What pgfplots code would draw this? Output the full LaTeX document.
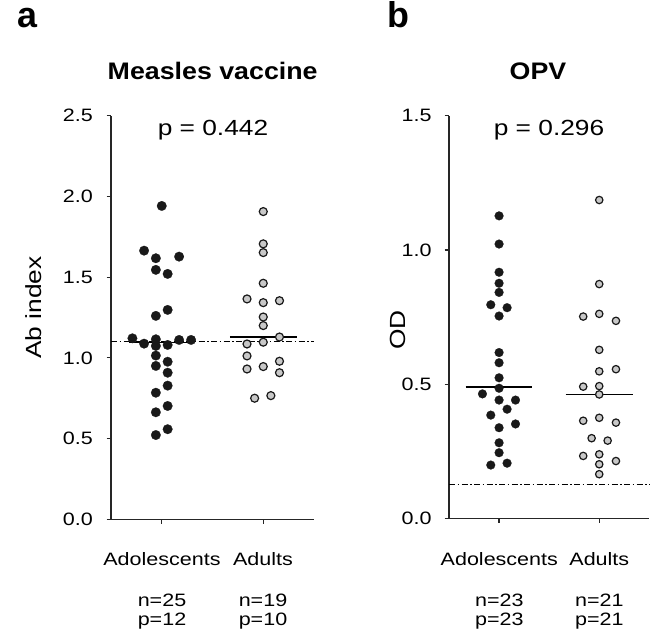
\documentclass[border=0pt]{standalone}
\usepackage{pgfplots}
\pgfplotsset{compat=1.18}
\usepackage{fontspec}
\setmainfont{Liberation Sans}[FakeStretch=1.2]
\newfontfamily\titlefont{Liberation Sans}[FakeStretch=1.12]
\newfontfamily\plainsans{Liberation Sans}
\definecolor{dotblack}{RGB}{25,25,25}
\definecolor{adgray}{RGB}{200,200,200}

\pgfplotstableread{
x y
1.000 1.941
0.826 1.664
0.942 1.617
1.171 1.627
0.942 1.545
1.058 1.520
1.058 1.297
0.942 1.260
0.711 1.121
0.942 1.115
1.171 1.111
1.289 1.111
0.826 1.088
0.942 1.074
1.058 1.080
0.942 1.014
0.942 0.950
1.058 0.976
1.058 0.908
1.058 0.828
0.942 0.784
1.058 0.702
0.942 0.663
1.058 0.558
0.942 0.522
}\measlesAdol

\pgfplotstableread{
x y
2.000 1.906
2.000 1.706
2.000 1.652
2.000 1.462
1.840 1.365
2.160 1.354
2.000 1.342
2.000 1.253
2.000 1.200
2.160 1.129
1.840 1.086
2.000 1.097
1.840 1.012
1.840 0.931
2.000 0.946
2.160 0.979
2.160 0.908
1.915 0.750
2.075 0.766
}\measlesAdult

\pgfplotstableread{
x y
1.000 1.127
1.000 1.022
1.000 0.917
1.000 0.876
1.000 0.842
0.917 0.796
1.080 0.785
1.000 0.754
1.000 0.618
1.000 0.580
1.000 0.524
1.000 0.485
0.834 0.464
1.000 0.441
1.164 0.441
1.080 0.407
0.917 0.385
1.164 0.352
1.000 0.338
1.000 0.282
1.000 0.245
0.917 0.199
1.080 0.206
}\opvAdol

\pgfplotstableread{
x y
2.000 1.186
2.000 0.873
1.840 0.752
2.000 0.762
2.167 0.736
2.000 0.628
2.000 0.548
2.167 0.556
1.840 0.491
2.000 0.493
2.000 0.462
1.840 0.364
2.000 0.375
2.167 0.357
1.924 0.299
2.084 0.290
1.840 0.233
2.000 0.239
2.167 0.214
2.000 0.202
2.000 0.165
}\opvAdult

\pgfplotsset{
  dotpanel/.style={
    scale only axis,
    anchor=south west,
    xmin=0.5, xmax=2.5, ymin=0,
    axis x line*=bottom, axis y line*=left,
    axis line style={-, line width=1.2bp, black!85},
    every tick/.style={black!85, line width=1.2bp},
    tick align=outside,
    major tick length=4.5bp,
    xtick={1,2}, xticklabels={}, yticklabels={},
    clip=false,
  },
  blackdot/.style={only marks, mark=*, mark size=4.8bp, mark options={fill=dotblack, draw=dotblack, line width=0.2bp}},
  graydot/.style={only marks, mark=*, mark size=4.0bp, mark options={fill=adgray, draw=black!90, line width=1.2bp}},
}

\begin{document}
\begin{tikzpicture}[x=1bp,y=1bp]
\useasboundingbox (0,0) rectangle (651,629);

% Panel a
\begin{axis}[dotpanel, at={(111bp,109.7bp)}, width=203bp, height=403.6bp,
  ymax=2.5, ytick={0,0.5,1,1.5,2,2.5}]
  \addplot[blackdot] table {\measlesAdol};
  \addplot[graydot] table {\measlesAdult};
  \addplot[black, line width=1.4bp] coordinates {(0.68,1.094) (1.32,1.094)};
  \addplot[black, line width=1.4bp] coordinates {(1.67,1.129) (2.33,1.129)};
  \addplot[black, line width=1.1bp, dash pattern=on 6bp off 2.5bp on 1.5bp off 2.5bp] coordinates {(0.5,1.100) (2.5,1.100)};
\end{axis}

% Panel b
\begin{axis}[dotpanel, at={(449bp,110.5bp)}, width=200.3bp, height=402.8bp,
  ymax=1.5, ytick={0,0.5,1,1.5}]
  \addplot[blackdot, mark size=4.4bp] table {\opvAdol};
  \addplot[graydot, mark size=3.7bp] table {\opvAdult};
  \addplot[black, line width=1.4bp] coordinates {(0.667,0.489) (1.333,0.489)};
  \addplot[black, line width=1.4bp] coordinates {(1.665,0.4625) (2.34,0.4625)};
  \addplot[black, line width=1.1bp, dash pattern=on 6bp off 2.5bp on 1.5bp off 2.5bp] coordinates {(0.5,0.125) (2.5,0.125)};
\end{axis}

% Y tick labels
\begin{scope}[every node/.style={anchor=east, inner sep=0pt, font=\fontsize{18}{21}\selectfont}]
\node at (93,109.7) {0.0};
\node at (93,190.4) {0.5};
\node at (93,271.1) {1.0};
\node at (93,351.9) {1.5};
\node at (93,432.6) {2.0};
\node at (93,513.3) {2.5};
\node at (431.7,110.5) {0.0};
\node at (431.7,244.8) {0.5};
\node at (431.7,379.0) {1.0};
\node at (431.7,513.3) {1.5};
\end{scope}

% Panel letters
\node[anchor=base west, inner sep=0pt] at (17,601) {\plainsans\fontsize{36}{36}\selectfont\bfseries a};
\node[anchor=base west, inner sep=0pt] at (387,601) {\plainsans\fontsize{36}{36}\selectfont\bfseries b};

% Titles
\node[anchor=base, inner sep=0pt] at (212.7,549) {\titlefont\fontsize{24}{28}\selectfont\bfseries Measles vaccine};
\node[anchor=base, inner sep=0pt] at (538,549) {\titlefont\fontsize{24}{28}\selectfont\bfseries OPV};

% p values
\node[anchor=base, inner sep=0pt] at (213,493) {\fontsize{22}{26}\selectfont p = 0.442};
\node[anchor=base, inner sep=0pt] at (549,493) {\fontsize{22}{26}\selectfont p = 0.296};

% Axis labels
\node[anchor=base, rotate=90, inner sep=0pt] at (41,321.5) {\fontsize{22}{26}\selectfont Ab index};
\node[anchor=base, rotate=90, inner sep=0pt] at (405,299) {\fontsize{22}{26}\selectfont OD};

% Category labels
\begin{scope}[every node/.style={anchor=base, inner sep=0pt, font=\fontsize{18}{21}\selectfont}]
\node at (162,63) {Adolescents};
\node at (263,63) {Adults};
\node at (499.3,63) {Adolescents};
\node at (599.3,63) {Adults};
\node at (162,22) {n=25};
\node at (162,3) {p=12};
\node at (263,22) {n=19};
\node at (263,3) {p=10};
\node at (499.3,22) {n=23};
\node at (499.3,3) {p=23};
\node at (599.3,22) {n=21};
\node at (599.3,3) {p=21};
\end{scope}
\end{tikzpicture}
\end{document}
